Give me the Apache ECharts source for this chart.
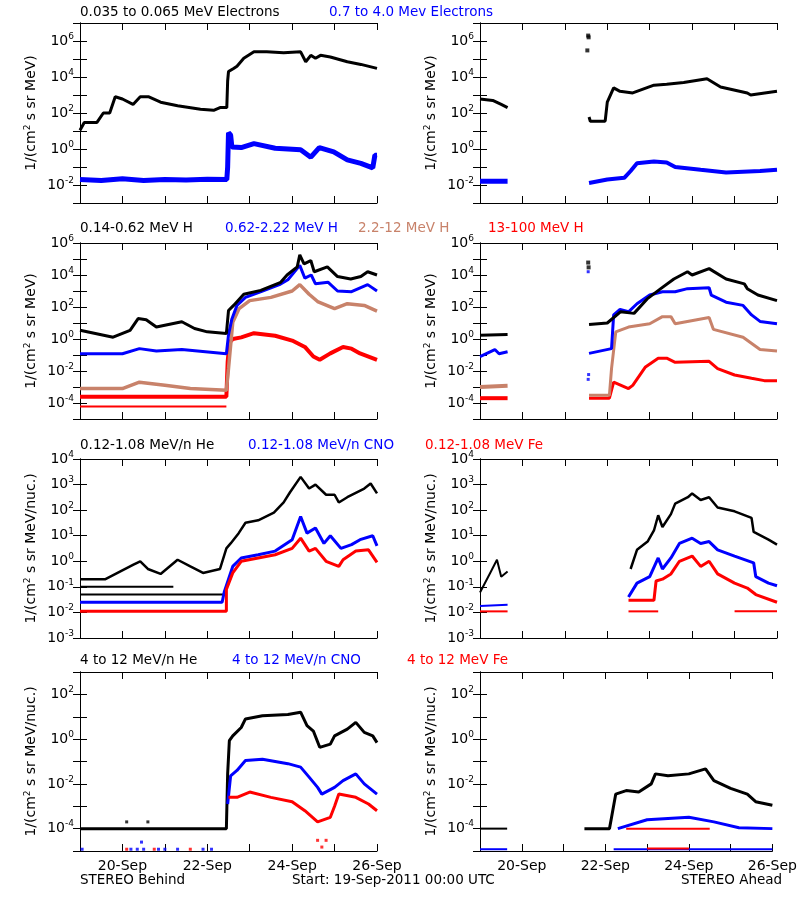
<!DOCTYPE html>
<html>
<head>
<meta charset="utf-8">
<script src="https://cdn.jsdelivr.net/npm/echarts@6/dist/echarts.min.js"></script>
<style>
  html, body { margin: 0; padding: 0; background: #fff; }
  #chart { width: 800px; height: 900px; }
</style>
</head>
<body>
<div id="chart"></div>
<script>
// time in days since 19-Sep-2011 00:00 UTC
const dayTicks = { 1: '20-Sep', 3: '22-Sep', 5: '24-Sep', 7: '26-Sep' }
const BLACK = '#000000', BLUE = '#0000ff', TAN = '#c8826a', RED = '#ff0000'

// ---- row 1: electrons ----
const behElecLo = [[0,1.1e1],[0.1,3e1],[0.4,3e1],[0.55,1e2],[0.7,1e2],[0.83,8e2],[1.0,6e2],[1.25,3e2],[1.42,8e2],[1.61,8e2],[1.9,4e2],[2.3,2.5e2],[2.84,1.6e2],[3.15,1.4e2],[3.3,2e2],[3.46,2e2],[3.48,6e3],[3.5,2e4],[3.62,3e4],[3.7,4e4],[3.86,1.1e5],[4.1,2.5e5],[4.4,2.5e5],[4.8,2.2e5],[5.2,2.5e5],[5.32,7e4],[5.44,1.6e5],[5.55,1.1e5],[5.67,1.6e5],[5.9,1.3e5],[6.3,7e4],[6.62,5e4],[7,3e4]]
const behElecHi = [[0,2e-2],[0.5,1.8e-2],[1,2.2e-2],[1.5,1.8e-2],[2,2e-2],[2.5,1.9e-2],[3,2.1e-2],[3.46,2e-2],[3.48,1e-1],[3.5,8],[3.55,6],[3.58,1.3],[3.8,1.2],[4.1,2],[4.6,1.1],[5.2,0.9],[5.44,0.35],[5.64,1.2],[5.98,0.7],[6.3,0.25],[6.62,0.16],[6.9,0.09],[6.95,0.45],[7,0.45]]
const ahdElecLoA = [[0,6e2],[0.3,5e2],[0.5,3e2],[0.65,2e2]]
const ahdElecLoB = [[2.57,6e1],[2.6,3.5e1],[2.95,3.5e1],[3.0,4e2],[3.15,2.5e3],[3.3,1.6e3],[3.6,1.3e3],[4.1,3.5e3],[4.4,4e3],[4.8,5e3],[5.35,8e3],[5.67,2.8e3],[6.3,1.3e3],[6.38,1e3],[7,1.6e3]]
const ahdElecLoSpike = [[2.55,2e6],[2.56,1.6e6],[2.53,3e5]]
const ahdElecHiA = [[0,1.6e-2],[0.65,1.6e-2]]
const ahdElecHiB = [[2.57,1.3e-2],[3.0,2e-2],[3.4,2.5e-2],[3.55,6e-2],[3.7,0.16],[4.1,0.2],[4.4,0.18],[4.6,0.1],[5.2,0.07],[5.8,0.05],[6.6,0.06],[7,0.07]]

// ---- row 2: protons ----
const behH1 = [[0,3.5],[0.78,1.3],[1.18,3.5],[1.37,19],[1.56,16],[1.8,5.6],[2.4,12],[2.7,4.5],[3.0,2.8],[3.45,2.2],[3.5,60],[3.62,126],[3.86,630],[4.26,1.1e3],[4.73,3.5e3],[4.88,1e4],[5.12,3.2e4],[5.18,1.8e5],[5.28,5e4],[5.44,8e4],[5.52,1.6e4],[5.83,3.2e4],[6.07,8e3],[6.38,5.6e3],[6.62,8e3],[6.78,1.6e4],[7,1e4]]
const behH2 = [[0,0.12],[1.0,0.12],[1.4,0.25],[1.8,0.18],[2.4,0.22],[3.45,0.12],[3.5,1.8],[3.58,18],[3.7,126],[3.9,400],[4.3,1e3],[4.7,2.5e3],[4.9,5e3],[5.18,4e4],[5.3,6.3e3],[5.45,1e4],[5.55,2.8e3],[5.85,3.5e3],[6.07,1e3],[6.4,900],[6.78,2.5e3],[7,1e3]]
const behH3 = [[0,8e-4],[1.0,8e-4],[1.4,2e-3],[2.0,1.3e-3],[2.6,8e-4],[3.45,6.3e-4],[3.5,1.4e-2],[3.6,11],[3.75,80],[4.0,250],[4.5,400],[5.0,1e3],[5.18,2.5e3],[5.4,630],[5.6,220],[6.0,80],[6.3,160],[6.7,126],[7,56]]
const behH4 = [[0,2.5e-4],[3.45,2.5e-4],[3.48,3.5e-2],[3.52,0.6],[3.6,1],[3.8,1.26],[4.1,2.3],[4.6,1.6],[5.0,0.8],[5.3,0.32],[5.5,0.08],[5.65,0.05],[5.9,0.126],[6.2,0.32],[6.4,0.25],[6.6,0.126],[7,0.05]]
const behH4Floor = [[0,6e-5],[3.45,6e-5]]
const ahdH1A = [[0,1.7],[0.65,1.9]]
const ahdH1B = [[2.57,8],[3.0,10],[3.31,50],[3.63,40],[3.94,320],[4.26,1.4e3],[4.57,5.6e3],[4.89,1.6e4],[5.0,1e4],[5.4,2.5e4],[5.8,5.6e3],[6.23,2.8e3],[6.3,1.4e3],[6.55,560],[7,250]]
const ahdH1Spike = [[2.55,6e4],[2.56,3e4]]
const ahdH2A = [[0,0.08],[0.35,0.22],[0.45,0.12],[0.65,0.16]]
const ahdH2B = [[2.57,0.126],[3.1,0.25],[3.15,32],[3.3,70],[3.5,50],[3.7,160],[4.0,560],[4.3,900],[4.6,900],[4.89,1.4e3],[5.4,1.6e3],[5.45,560],[5.8,200],[6.2,126],[6.4,32],[6.6,12.6],[7,9]]
const ahdH2Spike = [[2.55,1.6e4],[2.55,3e-3],[2.56,6e-3]]
const ahdH3A = [[0,1e-3],[0.65,1.2e-3]]
const ahdH3B = [[2.57,3e-4],[3.05,3e-4],[3.1,1.4e-2],[3.2,2.8],[3.5,5.6],[4.0,9],[4.3,25],[4.5,25],[4.6,9],[5.4,22],[5.5,4],[6.2,1.3],[6.6,0.22],[7,0.18]]
const ahdH4A = [[0,2e-4],[0.65,2e-4]]
const ahdH4B = [[2.57,2e-4],[3.05,2e-4],[3.15,2e-3],[3.5,8e-4],[3.6,1.26e-3],[3.9,1.8e-2],[4.2,6.3e-2],[4.4,6.3e-2],[4.6,3.5e-2],[5.4,4e-2],[5.6,1.4e-2],[6.0,5.6e-3],[6.4,3.5e-3],[6.7,2.5e-3],[7,2.5e-3]]

// ---- row 3: low energy heavy ions ----
const behHeLo = [[0,0.2],[0.6,0.2],[1.26,0.74],[1.42,1],[1.6,0.5],[1.9,0.32],[2.3,1.15],[2.6,0.63],[2.9,0.35],[3.3,0.5],[3.45,3.2],[3.55,5],[3.74,12.6],[3.9,32],[4.2,40],[4.57,80],[4.8,200],[4.95,500],[5.2,2e3],[5.4,700],[5.55,1e3],[5.8,400],[6.0,400],[6.1,200],[6.3,320],[6.7,700],[6.85,1.1e3],[7,450]]
const behHeLoFloor = [[0,0.05],[3.4,0.05]]
const behHeLoFloor2 = [[0,0.1],[2.2,0.1]]
const behCnoLo = [[0,0.025],[3.35,0.025],[3.4,0.063],[3.5,0.2],[3.6,0.63],[3.8,1.35],[4.2,1.8],[4.6,2.5],[5.0,7],[5.2,56],[5.35,12.6],[5.55,20],[5.75,5],[5.9,10],[6.15,3.2],[6.4,4.5],[6.6,7],[6.9,10],[7,4]]
const behFeLo = [[0,0.011],[3.45,0.011],[3.45,0.08],[3.6,0.35],[3.8,1],[4.2,1.35],[4.6,1.8],[5.0,3.2],[5.2,8],[5.4,2.5],[5.55,3.2],[5.8,1],[6.1,0.63],[6.2,1.15],[6.5,2.5],[6.8,2.8],[7,0.9]]
const ahdHeLoA = [[0,0.06],[0.24,0.35],[0.4,1.15],[0.5,0.25],[0.65,0.4]]
const ahdHeLoB = [[3.55,0.5],[3.7,2.8],[3.95,5.9],[4.1,16],[4.2,63],[4.3,22],[4.5,70],[4.6,180],[4.9,320],[5.0,450],[5.2,250],[5.4,320],[5.6,126],[6.0,90],[6.4,50],[6.45,14],[6.8,7],[7,4.5]]
const ahdCnoLoA = [[0,0.018],[0.65,0.02]]
const ahdCnoLoB = [[3.5,0.04],[3.7,0.14],[4.0,0.25],[4.2,1.35],[4.3,0.5],[4.5,1.35],[4.7,5],[5.0,8],[5.2,5],[5.4,5.9],[5.6,2.8],[6.0,1.6],[6.45,0.87],[6.5,0.25],[6.8,0.14],[7,0.11]]
const ahdFeLoA = [[0,0.011],[0.65,0.011]]
const ahdFeLoB = [[3.5,0.03],[4.1,0.03],[4.15,0.17],[4.3,0.2],[4.5,0.32],[4.7,1],[5.0,1.6],[5.2,0.63],[5.4,1],[5.6,0.32],[6.0,0.14],[6.3,0.09],[6.5,0.05],[7,0.025]]
const ahdFeLoFloorA = [[3.5,0.011],[4.2,0.011]]
const ahdFeLoFloorB = [[6.0,0.011],[7,0.011]]

// ---- row 4: high energy heavy ions ----
const behHeHi = [[0,1e-4],[3.45,1e-4],[3.48,2.8e-2],[3.52,0.85],[3.6,1.4],[3.8,3.3],[3.9,8],[4.3,11],[4.9,12.6],[5.2,16],[5.35,4],[5.5,2.3],[5.65,0.43],[5.9,0.6],[6.0,1.4],[6.3,2.8],[6.5,5.6],[6.7,2],[6.9,1.4],[7,0.7]]
const behHeHiDots = [[1.1,2e-4],[1.6,2e-4]]
const behCnoHi = [[3.48,1.26e-3],[3.55,2.3e-2],[3.7,4e-2],[3.9,0.11],[4.3,0.126],[4.9,0.08],[5.2,0.056],[5.4,0.02],[5.6,7e-3],[5.7,3.5e-3],[6.0,7e-3],[6.2,1.4e-2],[6.5,2.8e-2],[6.7,1e-2],[7,3.5e-3]]
const behCnoHiDots = [[0.05,1.2e-5],[1.2,1.2e-5],[1.35,1.2e-5],[1.45,2.5e-5],[1.5,1.2e-5],[1.85,1.2e-5],[2.0,1.2e-5],[2.3,1.2e-5],[2.9,1.2e-5],[3.1,1.2e-5]]
const behFeHi = [[3.5,2.5e-3],[3.7,2.5e-3],[4.0,4.3e-3],[4.5,2.5e-3],[5.0,1.6e-3],[5.3,6.3e-4],[5.6,2e-4],[5.9,3.2e-4],[6.0,1e-3],[6.1,3.5e-3],[6.5,2.5e-3],[6.8,1.26e-3],[7,6.3e-4]]
const behFeHiDots = [[1.1,1.2e-5],[1.75,1.2e-5],[2.6,1.2e-5],[5.6,3e-5],[5.7,1.5e-5],[5.8,3e-5]]
const ahdHeHiA = [[0,1e-4],[0.65,1e-4]]
const ahdHeHiB = [[2.5,1e-4],[3.1,1e-4],[3.15,3.2e-4],[3.25,3.5e-3],[3.5,5e-3],[3.8,4.3e-3],[4.1,1e-2],[4.2,2.8e-2],[4.5,2.3e-2],[5.0,2.8e-2],[5.4,4.7e-2],[5.6,1.4e-2],[6.0,6.3e-3],[6.4,3.5e-3],[6.6,1.6e-3],[7,1.1e-3]]
const ahdCnoHi = [[3.3,1e-4],[4.0,2.5e-4],[5.0,3.2e-4],[5.6,2e-4],[6.2,1.1e-4],[7,1e-4]]
const ahdCnoHiFloorA = [[0,1.2e-5],[0.65,1.2e-5]]
const ahdCnoHiFloorB = [[3.2,1.2e-5],[7,1.2e-5]]
const ahdFeHi = [[3.5,1e-4],[5.5,1e-4]]
const ahdFeHiFloor = [[4.0,1.3e-5],[5.0,1.3e-5]]

// panel layout
const colLeft = [80, 480]
const rows = [
  { top: 23, height: 180, min: 1e-3, max: 1e7, every: 2, unit: 'MeV' },
  { top: 243, height: 176, min: 1e-5, max: 1e6, every: 2, unit: 'MeV' },
  { top: 459, height: 179, min: 1e-3, max: 1e4, every: 1, unit: 'MeV/nuc.' },
  { top: 672, height: 179, min: 1e-5, max: 1e3, every: 2, unit: 'MeV/nuc.' }
]

const grids = [], xAxes = [], yAxes = [], series = []

rows.forEach((r, ri) => {
  colLeft.forEach((left, ci) => {
    const g = grids.length
    grids.push({ left: left, top: r.top, width: 297, height: r.height })
    const tick = { show: true, inside: true, length: 7, lineStyle: { color: '#000' } }
    const line = { show: true, lineStyle: { color: '#000', width: 1 } }
    xAxes.push({
      type: 'value', gridIndex: g, min: 0, max: 7, interval: 1,
      axisLine: line, axisTick: tick, splitLine: { show: false },
      axisLabel: {
        show: ri === 3, color: '#000', fontSize: 14, margin: 8,
        fontFamily: 'DejaVu Sans', showMaxLabel: true,
        formatter: v => dayTicks[v] || ''
      }
    })
    xAxes.push({
      type: 'value', gridIndex: g, min: 0, max: 7, interval: 1, position: 'top',
      axisLine: line, axisTick: tick, splitLine: { show: false }, axisLabel: { show: false }
    })
    yAxes.push({
      type: 'log', logBase: 10, gridIndex: g, min: r.min, max: r.max, interval: 1,
      axisLine: line, axisTick: tick, splitLine: { show: false },
      name: '1/(cm{s|2} s sr ' + r.unit + ')', nameLocation: 'middle', nameGap: 40,
      nameTextStyle: { color: '#000', fontSize: 14, fontFamily: 'DejaVu Sans', rich: { s: { fontSize: 9, verticalAlign: 'top', padding: [0, 0, 8, 0] } } },
      axisLabel: {
        color: '#000', fontSize: 14, fontFamily: 'DejaVu Sans', margin: 6,
        formatter: v => {
          const e = Math.round(Math.log10(v))
          if (r.every === 2 && Math.abs(e) % 2 === 1) return ''
          return '10{s|' + e + '}'
        },
        rich: { s: { fontSize: 9, verticalAlign: 'top', padding: [0, 0, 9, 0], fontFamily: 'DejaVu Sans' } }
      }
    })
    yAxes.push({
      type: 'log', logBase: 10, gridIndex: g, min: r.min, max: r.max, interval: 1, position: 'right',
      axisLine: line, axisTick: tick, splitLine: { show: false }, axisLabel: { show: false }
    })
  })
})

// grid index: row*2 + col
function add(g, color, pts, width) {
  series.push({
    type: 'line', xAxisIndex: g * 2, yAxisIndex: g * 2, data: pts,
    showSymbol: false, symbol: 'none', silent: true, animation: false,
    lineStyle: { color: color, width: width || 3 }
  })
}
function dots(g, color, pts, size) {
  series.push({
    type: 'scatter', xAxisIndex: g * 2, yAxisIndex: g * 2, data: pts, silent: true, animation: false,
    symbol: 'rect', symbolSize: size || 3, itemStyle: { color: color }
  })
}

add(0, BLACK, behElecLo); add(0, BLUE, behElecHi, 5)
add(1, BLACK, ahdElecLoA); add(1, BLACK, ahdElecLoB); dots(1, BLACK, ahdElecLoSpike, 4)
add(1, BLUE, ahdElecHiA, 5); add(1, BLUE, ahdElecHiB, 4)

add(2, RED, behH4Floor, 2); add(2, RED, behH4, 4); add(2, TAN, behH3, 3.5); add(2, BLUE, behH2); add(2, BLACK, behH1)
add(3, RED, ahdH4A, 4); add(3, RED, ahdH4B, 3); add(3, TAN, ahdH3A, 4); add(3, TAN, ahdH3B)
add(3, BLUE, ahdH2A); add(3, BLUE, ahdH2B); dots(3, BLUE, ahdH2Spike, 3)
add(3, BLACK, ahdH1A); add(3, BLACK, ahdH1B); dots(3, BLACK, ahdH1Spike, 4)

add(4, BLACK, behHeLoFloor, 2); add(4, BLACK, behHeLoFloor2, 2); add(4, BLACK, behHeLo, 2.5)
add(4, BLUE, behCnoLo); add(4, RED, behFeLo)
add(5, BLACK, ahdHeLoA, 2); add(5, BLACK, ahdHeLoB, 2.5)
add(5, RED, ahdFeLoFloorA, 2); add(5, RED, ahdFeLoFloorB, 2)
add(5, BLUE, ahdCnoLoA, 2); add(5, BLUE, ahdCnoLoB); add(5, RED, ahdFeLoA, 2); add(5, RED, ahdFeLoB)

add(6, BLACK, behHeHi); dots(6, BLACK, behHeHiDots, 3)
add(6, BLUE, behCnoHi); dots(6, BLUE, behCnoHiDots, 3)
add(6, RED, behFeHi); dots(6, RED, behFeHiDots, 3)
add(7, BLACK, ahdHeHiA, 2); add(7, BLACK, ahdHeHiB)
add(7, BLUE, ahdCnoHi, 3); add(7, BLUE, ahdCnoHiFloorA, 2); add(7, BLUE, ahdCnoHiFloorB, 2)
add(7, RED, ahdFeHi, 2); add(7, RED, ahdFeHiFloor, 2)

function label(x, y, text, color) {
  return { type: 'text', left: x, top: y, silent: true,
    style: { text: text, fill: color, font: '13.5px "DejaVu Sans"' } }
}
const titles = [
  label(80, 5, '0.035 to 0.065 MeV Electrons', BLACK), label(329, 5, '0.7 to 4.0 Mev Electrons', BLUE),
  label(80, 221, '0.14-0.62 MeV H', BLACK), label(225, 221, '0.62-2.22 MeV H', BLUE),
  label(358, 221, '2.2-12 MeV H', TAN), label(488, 221, '13-100 MeV H', RED),
  label(80, 438, '0.12-1.08 MeV/n He', BLACK), label(248, 438, '0.12-1.08 MeV/n CNO', BLUE),
  label(425, 438, '0.12-1.08 MeV Fe', RED),
  label(80, 653, '4 to 12 MeV/n He', BLACK), label(232, 653, '4 to 12 MeV/n CNO', BLUE),
  label(407, 653, '4 to 12 MeV Fe', RED),
  label(80, 873, 'STEREO Behind', BLACK), label(292, 873, 'Start: 19-Sep-2011 00:00 UTC', BLACK),
  label(681, 873, 'STEREO Ahead', BLACK)
]

const chart = echarts.init(document.getElementById('chart'), null, { renderer: 'canvas' })
chart.setOption({
  backgroundColor: '#ffffff',
  animation: false,
  textStyle: { fontFamily: 'DejaVu Sans' },
  grid: grids, xAxis: xAxes, yAxis: yAxes, series: series,
  graphic: titles
})
</script>
</body>
</html>
